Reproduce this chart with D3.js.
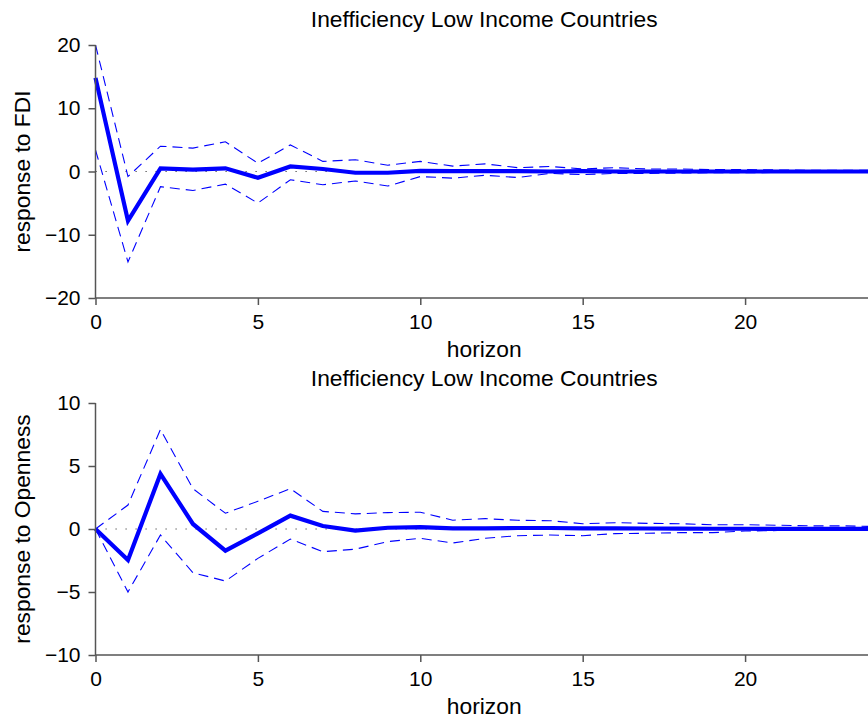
<!DOCTYPE html>
<html>
<head>
<meta charset="utf-8">
<script src="https://cdn.jsdelivr.net/npm/d3@7"></script>
<style>
  html, body { margin: 0; padding: 0; background: #fff; }
  svg { display: block; }
  text { font-family: "Liberation Sans", Arial, Helvetica, sans-serif; fill: #000; }
</style>
</head>
<body>
<div id="chart"></div>
<script>
// ---- data ----
const horizons = d3.range(0, 25);
const xTicks = [0, 5, 10, 15, 20];
const titles = ["Inefficiency Low Income Countries", "Inefficiency Low Income Countries"];
const yLabels = ["response to FDI", "response to Openness"];
const xLabel = "horizon";

const fdiYTicks = [-20, -10, 0, 10, 20];
const fdiMean  = [14.8, -7.8, 0.5, 0.3, 0.5, -1.0, 0.8, 0.4, -0.2, -0.2, 0.1, 0.05, 0.05, 0.05, 0.0, 0.05, 0.0, 0.0, 0.0, 0.0, 0.0, 0.0, 0.0, 0.0, 0.0];
const fdiUpper = [20, -0.8, 4.0, 3.7, 4.7, 1.3, 4.2, 1.6, 1.85, 1.0, 1.6, 0.85, 1.2, 0.6, 0.8, 0.4, 0.6, 0.4, 0.4, 0.3, 0.3, 0.25, 0.2, 0.2, 0.2];
const fdiLower = [3.4, -14.3, -2.4, -3.0, -2.0, -5.0, -1.3, -2.1, -1.5, -2.3, -0.8, -1.05, -0.6, -0.95, -0.3, -0.5, -0.3, -0.3, -0.25, -0.2, -0.2, -0.15, -0.15, -0.1, -0.1];

const opnYTicks = [-10, -5, 0, 5, 10];
const opnMean  = [0, -2.46, 4.37, 0.4, -1.72, -0.35, 1.06, 0.24, -0.13, 0.1, 0.15, 0.05, 0.05, 0.08, 0.08, 0.05, 0.05, 0.04, 0.03, 0.02, 0.02, 0.01, 0.01, 0.01, 0.0];
const opnUpper = [0, 1.9, 7.9, 3.2, 1.25, 2.2, 3.2, 1.4, 1.2, 1.3, 1.33, 0.7, 0.82, 0.69, 0.66, 0.42, 0.5, 0.45, 0.42, 0.34, 0.34, 0.3, 0.25, 0.25, 0.2];
const opnLower = [0, -5.0, -0.48, -3.47, -4.13, -2.33, -0.8, -1.8, -1.6, -1.0, -0.74, -1.11, -0.74, -0.53, -0.48, -0.53, -0.37, -0.34, -0.29, -0.29, -0.16, -0.12, -0.1, -0.08, -0.05];

// ---- layout ----
const W = 868, H = 722;
const svg = d3.select("#chart").append("svg").attr("width", W).attr("height", H);

const panels = [
  { title: titles[0], ylab: yLabels[0], yDomain: [-20, 20], yTicks: fdiYTicks,
    mean: fdiMean, upper: fdiUpper, lower: fdiLower, top: 45, bottom: 298, titleY: 27 },
  { title: titles[1], ylab: yLabels[1], yDomain: [-10, 10], yTicks: opnYTicks,
    mean: opnMean, upper: opnUpper, lower: opnLower, top: 403, bottom: 655, titleY: 386 }
];

const x = d3.scaleLinear().domain([0, 24]).range([95.5, 875]);
const blue = "#0000ff";
const axisColor = "#555";
const fs = 21;      // tick labels
const lfs = 22.8;   // titles and axis labels

panels.forEach(p => {
  const y = d3.scaleLinear().domain(p.yDomain).range([p.bottom, p.top]);
  const g = svg.append("g");

  // zero reference (dotted)
  g.append("line")
    .attr("x1", x(0)).attr("x2", W)
    .attr("y1", y(0)).attr("y2", y(0))
    .attr("stroke", "#444").attr("stroke-width", 1.2)
    .attr("stroke-dasharray", "1.2,8.8");

  const line = d3.line().x((d, i) => x(horizons[i])).y(d => y(d));

  // confidence bands
  [p.upper, p.lower].forEach(arr => {
    g.append("path").datum(arr)
      .attr("d", line)
      .attr("fill", "none")
      .attr("stroke", blue).attr("stroke-width", 1.1)
      .attr("stroke-dasharray", "10,6");
  });

  // mean response
  g.append("path").datum(p.mean)
    .attr("d", line)
    .attr("fill", "none")
    .attr("stroke", blue).attr("stroke-width", 4.2)
    .attr("stroke-linejoin", "miter");

  // axes
  const xAxis = d3.axisBottom(x).tickValues(xTicks).tickSize(7).tickPadding(9).tickFormat(d3.format("d"));
  const gx = g.append("g").attr("transform", `translate(0,${p.bottom})`).call(xAxis);
  const yAxis = d3.axisLeft(y).tickValues(p.yTicks).tickSize(7).tickPadding(8)
      .tickFormat(d => d < 0 ? "\u2212" + Math.abs(d) : d);
  const gy = g.append("g").attr("transform", `translate(${x(0)},0)`).call(yAxis);

  [gx, gy].forEach(a => {
    a.select(".domain").attr("stroke", axisColor).attr("stroke-width", 1.5);
    a.selectAll(".tick line").attr("stroke", axisColor).attr("stroke-width", 1.5);
    a.selectAll(".tick text").attr("font-size", fs).attr("fill", "#000")
      .attr("font-family", "Liberation Sans, Arial, sans-serif");
  });
  gy.select(".domain").attr("d", `M0,${p.top}V${p.bottom}`);
  gx.select(".domain").attr("d", `M${x(0)},0H${W + 10}`);

  // labels
  svg.append("text").attr("x", (x(0) + 873) / 2).attr("y", p.titleY)
    .attr("text-anchor", "middle").attr("font-size", lfs).text(p.title);
  svg.append("text").attr("x", (x(0) + 873) / 2).attr("y", p.bottom + 59)
    .attr("text-anchor", "middle").attr("font-size", lfs).text(xLabel);
  svg.append("text")
    .attr("transform", `translate(30,${(p.top + p.bottom) / 2}) rotate(-90)`)
    .attr("text-anchor", "middle").attr("font-size", lfs).text(p.ylab);
});
</script>
</body>
</html>
